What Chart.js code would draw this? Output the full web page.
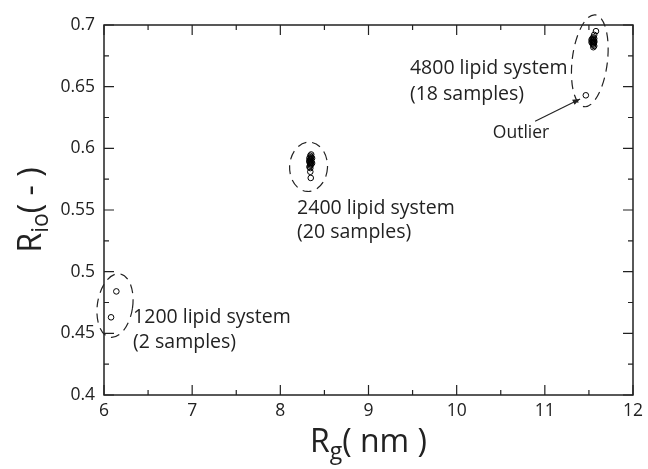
<!DOCTYPE html>
<html>
<head>
<meta charset="utf-8">
<script src="https://cdn.jsdelivr.net/npm/chart.js@4.4.0/dist/chart.umd.min.js"></script>
<style>
  html, body { margin: 0; padding: 0; background: #fff; }
</style>
</head>
<body>
<canvas id="chart" width="648" height="469"></canvas>
<script>
// Axis ticks
const xTicks = [6, 7, 8, 9, 10, 11, 12];
const xTickLabels = ["6", "7", "8", "9", "10", "11", "12"];
const yTicks = [0.4, 0.45, 0.5, 0.55, 0.6, 0.65, 0.7];
const yTickLabels = ["0.4", "0.45", "0.5", "0.55", "0.6", "0.65", "0.7"];

// 1200 lipid system (2 samples)
const rg1200 = [6.14, 6.08];
const rio1200 = [0.484, 0.463];

// 2400 lipid system (20 samples)
const rg2400 = [8.35, 8.34, 8.35, 8.33, 8.36, 8.34, 8.35, 8.33, 8.34, 8.35,
  8.33, 8.34, 8.36, 8.34, 8.35, 8.34, 8.33, 8.34, 8.34, 8.345];
const rio2400 = [0.595, 0.594, 0.593, 0.592, 0.592, 0.591, 0.591, 0.590, 0.590, 0.589,
  0.589, 0.588, 0.588, 0.587, 0.587, 0.586, 0.585, 0.584, 0.581, 0.576];

// 4800 lipid system (18 samples, one outlier)
const rg4800 = [11.58, 11.56, 11.55, 11.54, 11.56, 11.55, 11.53, 11.56, 11.54, 11.55,
  11.53, 11.56, 11.55, 11.54, 11.55, 11.56, 11.55, 11.465];
const rio4800 = [0.695, 0.692, 0.690, 0.689, 0.689, 0.688, 0.688, 0.687, 0.687, 0.686,
  0.686, 0.686, 0.685, 0.685, 0.684, 0.683, 0.682, 0.643];

const toPoints = (xs, ys) => xs.map((x, i) => ({ x: x, y: ys[i] }));

// dashed ellipses around each group (data units)
const groupEllipses = [
  { cx: 6.125, cy: 0.4725, rx: 0.2, ry: 0.026, rot: 0.15 },
  { cx: 8.32, cy: 0.585, rx: 0.215, ry: 0.02, rot: 0.05 },
  { cx: 11.51, cy: 0.671, rx: 0.2, ry: 0.0375, rot: 0.12 }
];

// annotations
const notes = [
  { x: 9.47, y: 0.6645, text: "4800 lipid system" },
  { x: 9.47, y: 0.6435, text: "(18 samples)" },
  { x: 8.19, y: 0.5515, text: "2400 lipid system" },
  { x: 8.19, y: 0.5315, text: "(20 samples)" },
  { x: 6.33, y: 0.4625, text: "1200 lipid system" },
  { x: 6.33, y: 0.4423, text: "(2 samples)" }
];
const outlierNote = { x: 10.73, y: 0.6124, text: "Outlier", ax0: 10.89, ay0: 0.622, ax1: 11.40, ay1: 0.640 };

const FONT = "'Open Sans', 'Noto Sans', sans-serif";

const framePlugin = {
  id: "frame",
  afterDatasetsDraw(chart) {
    const ctx = chart.ctx;
    const xs = chart.scales.x, ys = chart.scales.y;
    const a = chart.chartArea;
    ctx.save();

    // frame
    ctx.strokeStyle = "#222";
    ctx.lineWidth = 1.5;
    ctx.strokeRect(a.left, a.top, a.right - a.left, a.bottom - a.top);

    // ticks inward, all four sides
    ctx.lineWidth = 1.2;
    ctx.beginPath();
    xTicks.forEach((v, i) => {
      const px = xs.getPixelForValue(v);
      ctx.moveTo(px, a.bottom); ctx.lineTo(px, a.bottom - 10);
      ctx.moveTo(px, a.top); ctx.lineTo(px, a.top + 10);
      if (i < xTicks.length - 1) {
        const pm = xs.getPixelForValue((v + xTicks[i + 1]) / 2);
        ctx.moveTo(pm, a.bottom); ctx.lineTo(pm, a.bottom - 5);
        ctx.moveTo(pm, a.top); ctx.lineTo(pm, a.top + 5);
      }
    });
    yTicks.forEach((v, i) => {
      const py = ys.getPixelForValue(v);
      ctx.moveTo(a.left, py); ctx.lineTo(a.left + 10, py);
      ctx.moveTo(a.right, py); ctx.lineTo(a.right - 10, py);
      if (i < yTicks.length - 1) {
        const pm = ys.getPixelForValue((v + yTicks[i + 1]) / 2);
        ctx.moveTo(a.left, pm); ctx.lineTo(a.left + 5, pm);
        ctx.moveTo(a.right, pm); ctx.lineTo(a.right - 5, pm);
      }
    });
    ctx.stroke();

    // tick labels
    ctx.fillStyle = "#222";
    ctx.font = "17.5px " + FONT;
    ctx.textAlign = "center";
    ctx.textBaseline = "top";
    xTicks.forEach((v, i) => ctx.fillText(xTickLabels[i], xs.getPixelForValue(v), a.bottom + 7));
    ctx.textAlign = "right";
    ctx.textBaseline = "middle";
    yTicks.forEach((v, i) => ctx.fillText(yTickLabels[i], a.left - 9, ys.getPixelForValue(v)));

    // axis titles with subscripts
    const cx = (a.left + a.right) / 2;
    drawSubTitle(ctx, cx, 441, "R", "g", "( nm )");
    ctx.save();
    ctx.translate(30, (a.top + a.bottom) / 2);
    ctx.rotate(-Math.PI / 2);
    drawSubTitle(ctx, 0, 0, "R", "io", "( - )");
    ctx.restore();

    // dashed ellipses
    ctx.setLineDash([9, 6]);
    ctx.lineWidth = 1.2;
    ctx.strokeStyle = "#222";
    groupEllipses.forEach(e => {
      const px = xs.getPixelForValue(e.cx), py = ys.getPixelForValue(e.cy);
      const rx = xs.getPixelForValue(e.cx + e.rx) - px;
      const ry = py - ys.getPixelForValue(e.cy + e.ry);
      ctx.beginPath();
      ctx.ellipse(px, py, rx, ry, e.rot, 0, Math.PI * 2);
      ctx.stroke();
    });
    ctx.setLineDash([]);

    // notes
    ctx.font = "19.5px " + FONT;
    ctx.textAlign = "left";
    ctx.textBaseline = "middle";
    notes.forEach(n => ctx.fillText(n.text, xs.getPixelForValue(n.x), ys.getPixelForValue(n.y)));

    // outlier label + arrow
    ctx.font = "17.5px " + FONT;
    ctx.textAlign = "center";
    ctx.fillText(outlierNote.text, xs.getPixelForValue(outlierNote.x), ys.getPixelForValue(outlierNote.y));
    const x0 = xs.getPixelForValue(outlierNote.ax0), y0 = ys.getPixelForValue(outlierNote.ay0);
    const x1 = xs.getPixelForValue(outlierNote.ax1), y1 = ys.getPixelForValue(outlierNote.ay1);
    ctx.lineWidth = 1.1;
    ctx.beginPath(); ctx.moveTo(x0, y0); ctx.lineTo(x1, y1); ctx.stroke();
    const ang = Math.atan2(y1 - y0, x1 - x0);
    ctx.beginPath();
    ctx.moveTo(x1, y1);
    ctx.lineTo(x1 - 8 * Math.cos(ang - 0.35), y1 - 8 * Math.sin(ang - 0.35));
    ctx.lineTo(x1 - 8 * Math.cos(ang + 0.35), y1 - 8 * Math.sin(ang + 0.35));
    ctx.closePath();
    ctx.fill();

    ctx.restore();
  }
};

function drawSubTitle(ctx, cx, cy, main, sub, rest) {
  ctx.textBaseline = "alphabetic";
  ctx.textAlign = "left";
  const big = "32px " + FONT, small = "23px " + FONT;
  ctx.font = big; const w1 = ctx.measureText(main).width;
  ctx.font = small; const w2 = ctx.measureText(sub).width;
  ctx.font = big; const w3 = ctx.measureText(rest).width;
  let x = cx - (w1 + w2 + w3) / 2;
  const base = cy + 11;
  ctx.font = big; ctx.fillText(main, x, base); x += w1;
  ctx.font = small; ctx.fillText(sub, x, base + 7); x += w2;
  ctx.font = big; ctx.fillText(rest, x, base);
}

const pointStyle = {
  showLine: false,
  pointRadius: 2.8,
  pointBorderWidth: 1,
  borderColor: "#000",
  backgroundColor: "rgba(255,255,255,0)"
};

new Chart(document.getElementById("chart"), {
  type: "scatter",
  data: {
    datasets: [
      Object.assign({ label: "1200", data: toPoints(rg1200, rio1200) }, pointStyle),
      Object.assign({ label: "2400", data: toPoints(rg2400, rio2400) }, pointStyle),
      Object.assign({ label: "4800", data: toPoints(rg4800, rio4800) }, pointStyle)
    ]
  },
  options: {
    responsive: false,
    animation: false,
    layout: { padding: { left: 104, right: 15, top: 25, bottom: 74 } },
    plugins: { legend: { display: false }, tooltip: { enabled: false } },
    scales: {
      x: {
        type: "linear", min: 6, max: 12,
        grid: { display: false, drawTicks: false },
        border: { display: false },
        ticks: { display: false, stepSize: 1 }
      },
      y: {
        type: "linear", min: 0.4, max: 0.7,
        grid: { display: false, drawTicks: false },
        border: { display: false },
        ticks: { display: false, stepSize: 0.05 }
      }
    }
  },
  plugins: [framePlugin]
});
</script>
</body>
</html>
